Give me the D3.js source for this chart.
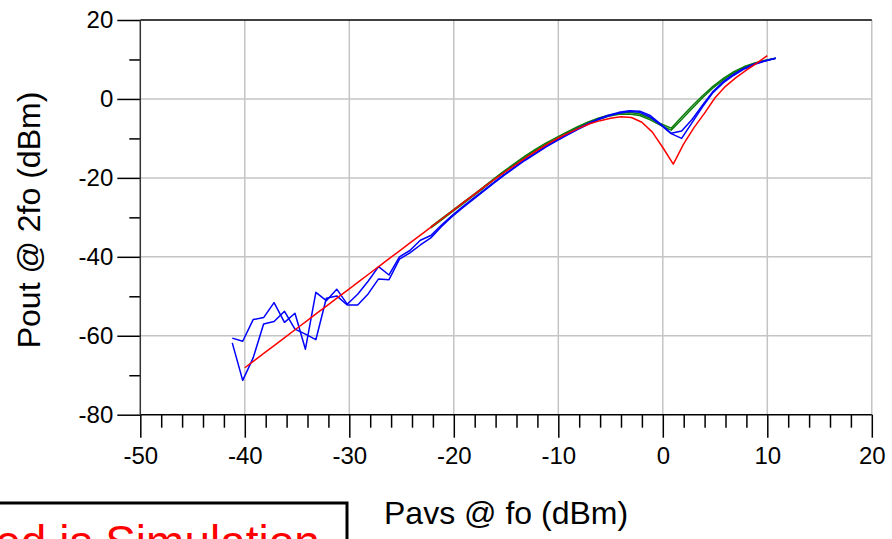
<!DOCTYPE html>
<html>
<head>
<meta charset="utf-8">
<script src="https://cdn.jsdelivr.net/npm/d3@7"></script>
<style>
  html, body { margin: 0; padding: 0; background: #fff; overflow: hidden; }
  svg { display: block; font-family: "Liberation Sans", Arial, sans-serif; }
</style>
</head>
<body>
<svg id="chart" width="892" height="539"></svg>
<script>
// Simulated 2nd-harmonic output vs. available input power (red)
const simPavs = [-40,-39,-38,-37,-36,-35,-34,-33,-32,-31,-30,-29,-28,-27,-26,-25,-24,-23,-22,-21,
  -20,-19,-18,-17,-16,-15,-14,-13,-12,-11,-10,-9,-8,-7,-6,-5,-4,-3,-2,-1,0,1,2,3,4,5,6,7,8,9,10];
const simPout = [-68.1,-66.1,-64.1,-62.1,-60.1,-58.1,-56.1,-54.1,-52.1,-50.1,-48.1,-46.1,-44.1,-42.1,-40.1,
  -38.1,-36.1,-34.1,-32.1,-30.1,-28.1,-26.1,-24.1,-22.1,-20.2,-18.3,-16.5,-14.7,-13.0,-11.4,-9.9,-8.6,
  -7.4,-6.3,-5.5,-4.9,-4.5,-4.7,-5.9,-8.4,-12.3,-16.5,-11.4,-7.2,-3.6,0.3,3.2,5.4,7.3,9.1,11.0];

// Measured sweeps (blue)
const measPavs = [-41.2,-40.2,-39.2,-38.2,-37.2,-36.2,-35.2,-34.2,-33.2,-32.2,-31.2,-30.2,-29.2,-28.2,
  -27.2,-26.2,-25.2,-24.2,-23.2,-22.2,-21.2,-20.2,-19.2,-18.2,-17.2,-16.2,-15.2,-14.2,-13.2,-12.2,-11.2,
  -10.2,-9.2,-8.2,-7.2,-6.2,-5.2,-4.2,-3.2,-2.2,-1.2,-0.2,0.8,1.8,2.8,3.8,4.8,5.8,6.8,7.8,8.8,9.8,10.8];
const measBlueA = [-60.6,-61.4,-55.9,-55.4,-51.6,-56.6,-54.3,-63.4,-49.0,-51.1,-48.2,-52.0,-49.5,-46.2,
  -42.5,-44.6,-40.0,-38.4,-35.8,-34.6,-32.0,-29.6,-27.4,-25.3,-23.3,-21.2,-19.2,-17.3,-15.4,-13.7,-12.0,
  -10.5,-9.0,-7.6,-6.3,-5.1,-4.1,-3.4,-3.0,-3.1,-4.2,-6.4,-8.7,-8.1,-5.2,-1.6,1.9,4.4,6.3,7.8,8.9,9.7,10.3];
const measBlueB = [-61.8,-71.3,-65.6,-57.0,-56.4,-53.8,-58.3,-59.6,-61.0,-50.5,-49.9,-52.2,-52.2,-49.4,
  -45.6,-45.8,-40.6,-39.0,-37.0,-35.2,-32.4,-29.9,-27.7,-25.6,-23.5,-21.4,-19.4,-17.5,-15.6,-13.9,-12.2,
  -10.7,-9.2,-7.8,-6.5,-5.3,-4.3,-3.6,-3.2,-3.4,-4.6,-6.6,-8.8,-10.0,-6.0,-2.0,1.6,4.1,6.0,7.6,8.8,9.6,10.3];

// Measured sweeps (green), high-power range only
const greenPavs = [-22.2,-21.2,-20.2,-19.2,-18.2,-17.2,-16.2,-15.2,-14.2,-13.2,-12.2,-11.2,-10.2,-9.2,
  -8.2,-7.2,-6.2,-5.2,-4.2,-3.2,-2.2,-1.2,-0.2,0.8,1.8,2.8,3.8,4.8,5.8,6.8,7.8,8.8,9.8,10.8];
const measGreenA = [-32.4,-30.4,-28.4,-26.4,-24.4,-22.4,-20.3,-18.3,-16.4,-14.5,-12.8,-11.2,-9.8,-8.4,
  -7.1,-5.9,-4.9,-4.1,-3.6,-3.4,-3.8,-4.9,-6.3,-7.4,-4.6,-1.8,0.8,3.2,5.2,6.9,8.2,9.1,9.8,10.3];
const measGreenB = [-32.7,-30.7,-28.7,-26.7,-24.7,-22.7,-20.6,-18.6,-16.7,-14.8,-13.1,-11.5,-10.1,-8.7,
  -7.4,-6.2,-5.2,-4.4,-3.9,-3.8,-4.2,-5.3,-6.7,-7.9,-5.2,-2.4,0.3,2.8,4.8,6.6,8.0,9.0,9.7,10.3];

// Axis ticks
const xMajor = [-50,-40,-30,-20,-10,0,10,20];
const xMinor = [-48,-46,-44,-42,-38,-36,-34,-32,-28,-26,-24,-22,-18,-16,-14,-12,-8,-6,-4,-2,2,4,6,8,12,14,16,18];
const yMajor = [-80,-60,-40,-20,0,20];
const yMinor = [-70,-50,-30,-10,10];

const xTitle = "Pavs @ fo (dBm)";
const yTitle = "Pout @ 2fo (dBm)";
const noteText = "Red is Simulation";

const svg = d3.select("#chart");
const plot = { left: 140.3, right: 871.8, top: 20, bottom: 414.7 };

const x = d3.scaleLinear().domain([-50, 20]).range([plot.left, plot.right]);
const y = d3.scaleLinear().domain([-80, 20]).range([plot.bottom, plot.top]);
const plainNumber = d => String(d);   // ASCII hyphen for negatives

// grid
const grid = svg.append("g").attr("stroke", "#c4c4c4").attr("stroke-width", 1.5);
grid.selectAll(".gx").data(xMajor.slice(1)).enter().append("line")
  .attr("x1", d => x(d)).attr("x2", d => x(d)).attr("y1", plot.top).attr("y2", plot.bottom);
grid.selectAll(".gy").data(yMajor.slice(1, -1)).enter().append("line")
  .attr("x1", plot.left).attr("x2", plot.right).attr("y1", d => y(d)).attr("y2", d => y(d));

// axes
const axisStyle = g => {
  g.select(".domain").remove();
  g.selectAll(".tick line").attr("stroke", "#000").attr("stroke-width", 1.5);
  g.selectAll(".tick text").attr("fill", "#000").attr("font-size", 24)
    .attr("font-family", "'Liberation Sans', Arial, sans-serif");
};
svg.append("g").attr("transform", `translate(0,${plot.bottom})`)
  .call(d3.axisBottom(x).tickValues(xMajor).tickSize(23).tickPadding(9).tickFormat(plainNumber))
  .call(axisStyle);
svg.append("g").attr("transform", `translate(0,${plot.bottom})`)
  .call(d3.axisBottom(x).tickValues(xMinor).tickSize(13).tickFormat(""))
  .call(axisStyle);
svg.append("g").attr("transform", `translate(${plot.left},0)`)
  .call(d3.axisLeft(y).tickValues(yMajor).tickSize(23).tickPadding(4).tickFormat(plainNumber))
  .call(axisStyle);
svg.append("g").attr("transform", `translate(${plot.left},0)`)
  .call(d3.axisLeft(y).tickValues(yMinor).tickSize(11).tickFormat(""))
  .call(axisStyle);

// frame
svg.append("line").attr("x1", plot.left).attr("x2", plot.right).attr("y1", plot.top).attr("y2", plot.top)
  .attr("stroke", "#000").attr("stroke-width", 1.5);
svg.append("line").attr("x1", plot.left).attr("x2", plot.right).attr("y1", plot.bottom).attr("y2", plot.bottom)
  .attr("stroke", "#000").attr("stroke-width", 1.5);
svg.append("line").attr("x1", plot.left).attr("x2", plot.left).attr("y1", plot.top).attr("y2", plot.bottom)
  .attr("stroke", "#333").attr("stroke-width", 1.5);

// traces
const line = d3.line().x(d => x(d[0])).y(d => y(d[1]));
const zip = (a, b) => a.map((v, i) => [v, b[i]]);
const traces = [
  { xs: greenPavs, ys: measGreenA, color: "#0a7d0a" },
  { xs: greenPavs, ys: measGreenB, color: "#0a7d0a" },
  { xs: measPavs, ys: measBlueA, color: "#0000ff" },
  { xs: measPavs, ys: measBlueB, color: "#0000ff" },
  { xs: simPavs, ys: simPout, color: "#ff0000" }
];
svg.append("g").selectAll("path").data(traces).enter().append("path")
  .attr("d", t => line(zip(t.xs, t.ys)))
  .attr("fill", "none").attr("stroke", t => t.color).attr("stroke-width", 1.5)
  .attr("stroke-linejoin", "round");

// axis titles
svg.append("text").attr("x", (plot.left + plot.right) / 2).attr("y", 524).attr("text-anchor", "middle")
  .attr("font-size", 32).attr("fill", "#000").text(xTitle);
svg.append("text").attr("transform", "translate(40,220) rotate(-90)").attr("text-anchor", "middle")
  .attr("font-size", 32).attr("fill", "#000").text(yTitle);

// note box, running off the lower-left corner
svg.append("rect").attr("x", -20).attr("y", 503).attr("width", 367).attr("height", 70)
  .attr("fill", "#fff").attr("stroke", "#000").attr("stroke-width", 3);
svg.append("text").attr("x", -38).attr("y", 558).attr("font-size", 46).attr("fill", "#ff0000")
  .text(noteText);
</script>
</body>
</html>
